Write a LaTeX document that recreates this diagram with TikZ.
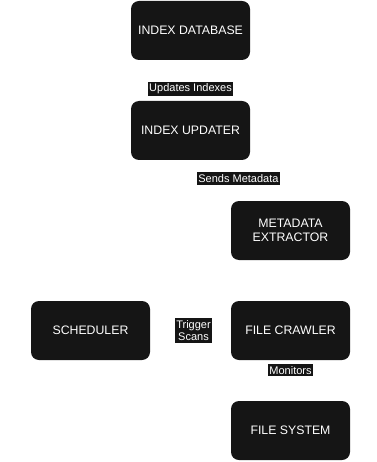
\documentclass[tikz,border=0pt]{standalone}
\usepackage{fontspec}
\setmainfont{Liberation Sans}
\usepackage{tikz}
\usetikzlibrary{positioning}

\definecolor{boxfill}{HTML}{151515}

\tikzset{
    block/.style={rectangle, rounded corners=8pt, fill=boxfill, text=white,
        minimum width=119pt, minimum height=59pt, align=center,
        font=\fontsize{12.3}{14}\selectfont},
    lbl/.style={fill=boxfill, text=white, inner xsep=1pt, inner ysep=2pt, align=center,
        font=\fontsize{11}{12.5}\selectfont}
}

\begin{document}
\begin{tikzpicture}[x=1pt,y=-1pt]
        \useasboundingbox (0,0) rectangle (376,462);

        % components
        \node[block] (db) at (190.5,30.5) {INDEX DATABASE};
        \node[block] (upd) at (190.5,130.5) {INDEX UPDATER};
        \node[block] (ext) at (290.5,230.5) {METADATA\\EXTRACTOR};
        \node[block] (sched) at (90.5,330.5) {SCHEDULER};
        \node[block] (crawl) at (290.5,330.5) {FILE CRAWLER};
        \node[block] (fs) at (290.5,430.5) {FILE SYSTEM};

        % flows (lines not drawn, only their labels)
        \path (upd.north) -- (db.south) node[lbl, pos=0.29]{Updates Indexes};
        \path (ext) -- (upd) node[lbl, pos=0.55]{Sends Metadata};
        \path (sched) -- (crawl) node[lbl, midway, xshift=3pt]{Trigger\\Scans};
        \path (crawl.south) -- (fs.north) node[lbl, pos=0.25]{Monitors};
    \end{tikzpicture}
\end{document}
